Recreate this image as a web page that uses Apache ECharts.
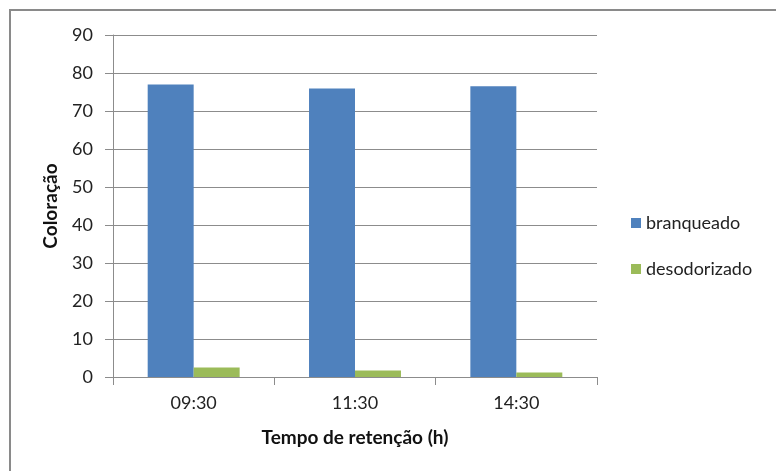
<!DOCTYPE html>
<html><head><meta charset="utf-8">
<script src="https://cdn.jsdelivr.net/npm/echarts@6/dist/echarts.min.js"></script>
<style>html,body{margin:0;padding:0;background:#fff}#c{width:776px;height:471px}</style>
</head><body><div id="c"></div>
<script>
const categories = ['09:30', '11:30', '14:30'];
const branqueado = [77.0, 75.9, 76.5];
const desodorizado = [2.5, 1.7, 1.2];
const seriesNames = ['branqueado', 'desodorizado'];
const yTitle = 'Coloração';
const xTitle = 'Tempo de retenção (h)';

const FONT = 'Lato, "Liberation Sans", sans-serif';
const AX = '#8c8c8c';
const chart = echarts.init(document.getElementById('c'));
chart.setOption({
  animation: false,
  graphic: [
    {type: 'line', shape: {x1: 9, y1: 10, x2: 776, y2: 10}, style: {stroke: '#8a8a8a', lineWidth: 2}, silent: true},
    {type: 'line', shape: {x1: 10, y1: 9, x2: 10, y2: 471}, style: {stroke: '#8a8a8a', lineWidth: 2}, silent: true},
    {type: 'text', x: 51, y: 206, rotation: Math.PI / 2, silent: true,
     style: {text: yTitle, font: 'bold 19px ' + FONT, fill: '#111', align: 'center', verticalAlign: 'middle'}}
  ],
  grid: {left: 113, right: 179, top: 35, bottom: 94, containLabel: false},
  legend: {
    orient: 'vertical', left: 631, top: 213, itemGap: 26, padding: 0,
    itemWidth: 10, itemHeight: 10, icon: 'rect',
    textStyle: {fontFamily: FONT, fontSize: 18, lineHeight: 20, color: '#222'},
    data: seriesNames
  },
  xAxis: {
    type: 'category', data: categories,
    axisLine: {lineStyle: {color: AX, width: 1}},
    axisTick: {show: true, length: 8, lineStyle: {color: AX}},
    axisLabel: {fontFamily: FONT, fontSize: 18, color: '#222', margin: 17},
    name: xTitle, nameLocation: 'middle', nameGap: 51, nameMoveOverlap: false,
    nameTextStyle: {fontFamily: FONT, fontSize: 19, fontWeight: 'bold', color: '#111'}
  },
  yAxis: {
    type: 'value', min: 0, max: 90, interval: 10,
    axisLine: {show: true, lineStyle: {color: AX}},
    axisTick: {show: true, length: 8, lineStyle: {color: AX}},
    splitLine: {lineStyle: {color: AX, width: 1}},
    axisLabel: {fontFamily: FONT, fontSize: 18, color: '#222', margin: 20}
  },
  series: [
    {name: seriesNames[0], type: 'bar', data: branqueado, barGap: '0%', barCategoryGap: '43%',
     itemStyle: {color: '#4f81bd'}},
    {name: seriesNames[1], type: 'bar', data: desodorizado, barGap: '0%', barCategoryGap: '43%',
     itemStyle: {color: '#9bbb59'}}
  ]
});
</script></body></html>
